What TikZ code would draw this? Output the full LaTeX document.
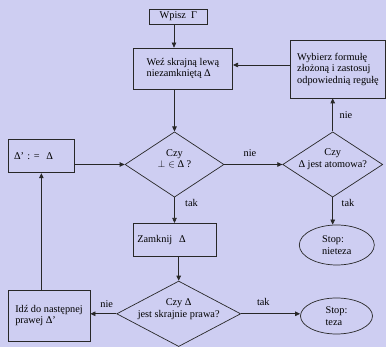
\documentclass[tikz,border=0pt]{standalone}
\usepackage{fontspec}
\setmainfont{Liberation Serif}
\usepackage{tikz}
\usetikzlibrary{shapes.geometric}
\usetikzlibrary{arrows.meta}
\usetikzlibrary{positioning}
\usepackage{xcolor}
\definecolor{tlo}{RGB}{206,206,242}
\definecolor{linia}{RGB}{40,40,40}

\begin{document}
\begin{tikzpicture}[x=1pt,y=-1pt,font=\fontsize{10.3}{11.5}\selectfont,
krok/.style={draw=linia, line width=.7pt, inner ysep=2pt, align=left},
pytanie/.style={draw=linia, diamond, line width=.7pt, inner sep=0pt},
stop/.style={draw=linia, ellipse, line width=.7pt, inner sep=0pt, align=left},
strz/.style={linia, line width=.7pt, -{Triangle[length=5pt,width=4.5pt]}}]
\fill[tlo] (0,0) rectangle (386,347);
\useasboundingbox (0,0) rectangle (386,347);
\node[krok, minimum height=15, minimum width=58.7] (wpisz) at (178.4,16.5) {Wpisz\ \ Γ};
\node[krok, minimum height=41, minimum width=99.5] (wez) at (182.9,68.5) {Weź skrajną lewą\\niezamkniętą Δ};
\node[krok, minimum height=58, minimum width=94.6] (wyb) at (338,69) {Wybierz formułę\\złożoną i zastosuj\\odpowiednią regułę};
\node[krok, minimum height=33.7, inner xsep=6, text width=54.7] (delta) at (41.35,156) {Δ’ : =\ \ Δ};
\node[krok, minimum height=33.4, inner xsep=4, text width=74.7] (zamk) at (174.7,240) {Zamknij\ \ Δ};
\node[krok, minimum height=51, minimum width=82] (idz) at (49,315.5) {Idź do następnej\\prawej Δ’};
\node[pytanie, minimum width=99, minimum height=65.3] (bot) at (174.5,164.5) {};
\node[align=center] (botT) at (174.5,159) {Czy\\$\bot\in$ Δ ?};
\node[pytanie, minimum width=100, minimum height=65.3] (atom) at (332.7,164.5) {};
\node[align=center] (atomT) at (332.7,159) {Czy\\Δ jest atomowa?};
\node[pytanie, minimum width=124, minimum height=65.5] (prawa) at (178.7,313.8) {};
\node[align=center] (prawaT) at (178.7,309) {Czy Δ\\jest skrajnie prawa?};
\node[stop, minimum width=75, minimum height=40] (niet) at (336.8,245) {Stop:\\nieteza};
\node[stop, minimum width=72, minimum height=36] (teza) at (336.5,316) {Stop:\\teza};
\draw[strz] ([xshift=-4.4pt]wpisz.south) -- ([xshift=-4.4pt]wpisz.south |- wez.north);
\draw[strz] (bot.north |- wez.south) -- (bot.north);
\draw[strz] ([yshift=4pt]wyb.west) -- ([yshift=4pt]wyb.west -| wez.east);
\draw[strz] (bot.east) -- (atom.west);
\draw[strz] (atom.north) -- (atom.north |- wyb.south);
\draw[strz] (atom.south) -- (atom.south |- niet.north);
\draw[strz] (bot.south) -- (bot.south |- zamk.north);
\draw[strz] (prawa.north |- zamk.south) -- (prawa.north);
\draw[strz] (prawa.west) -- (prawa.west -| idz.east);
\draw[strz] (prawa.east) -- (prawa.east -| teza.west);
\draw[strz] (idz.north -| delta.south) -- (delta.south);
\draw[strz] (bot.west -| delta.east) -- (bot.west);
\node (nie1) at (346,115) {nie};
\node (nie2) at (250,153.5) {nie};
\node (tak1) at (191.5,202.7) {tak};
\node (tak2) at (348,202.7) {tak};
\node (nie3) at (106.7,304) {nie};
\node (tak3) at (263.3,301.7) {tak};
\end{tikzpicture}
\end{document}
